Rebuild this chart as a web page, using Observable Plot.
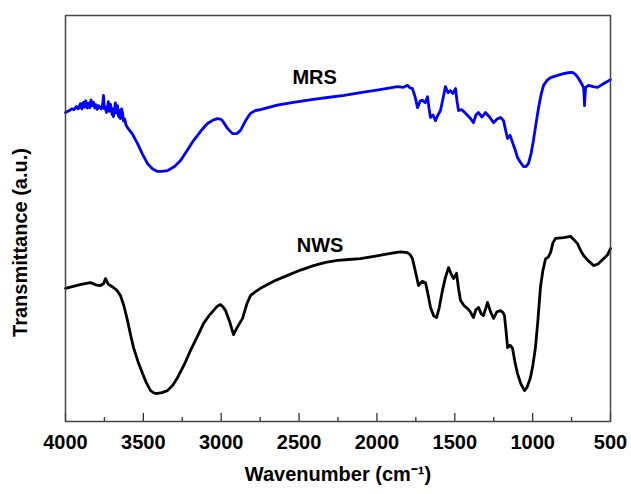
<!DOCTYPE html>
<html>
<head>
<meta charset="utf-8">
<script src="https://cdn.jsdelivr.net/npm/d3@7"></script>
<script src="https://cdn.jsdelivr.net/npm/@observablehq/plot@0.6"></script>
<style>
  html, body { margin: 0; padding: 0; background: #fff; }
  #chart { width: 631px; height: 494px; }
</style>
</head>
<body>
<div id="chart"></div>
<script>
// Series: [wavenumber (cm-1), transmittance (a.u.)]
const mrsPoints = [
  [4000,76.1],[3975,76.6],[3960,77.0],[3945,76.8],[3930,77.6],[3918,77.0],[3904,78.3],[3895,77.0],[3885,78.6],
  [3877,77.4],[3870,79.0],[3860,77.2],[3852,78.4],[3844,77.3],[3836,79.2],[3828,77.8],[3820,78.6],[3812,77.2],
  [3804,78.0],[3796,76.9],[3788,77.8],[3780,77.4],[3770,77.0],[3762,78.0],[3756,80.3],[3750,77.0],[3745,77.5],
  [3737,76.1],[3730,77.4],[3725,78.8],[3718,76.4],[3711,78.1],[3705,76.8],[3700,75.6],[3696,77.0],[3692,75.1],
  [3686,76.5],[3680,78.5],[3673,76.0],[3666,77.8],[3661,75.5],[3656,75.0],[3651,76.6],[3647,74.6],[3643,76.0],
  [3640,77.0],[3634,76.1],[3627,74.0],[3620,74.5],[3611,73.0],[3602,72.4],
  [3570,70.8],[3538,68.5],[3505,65.8],[3473,63.5],[3440,62.2],[3409,61.6],[3380,61.6],[3345,61.8],[3300,62.8],
  [3261,64.3],[3220,66.7],[3178,69.2],[3130,71.6],[3088,73.4],[3050,74.3],[3024,74.6],[3005,74.5],[2992,74.1],
  [2960,72.2],[2928,70.9],[2900,70.9],[2876,71.7],[2845,74.0],[2812,75.9],[2780,76.6],[2748,76.8],[2640,77.9],
  [2536,78.6],[2420,79.3],[2317,79.8],[2210,80.3],[2106,81.0],[1990,81.7],[1868,82.5],[1830,82.3],[1804,82.8],
  [1788,82.2],[1772,82.0],[1755,80.0],[1739,77.3],[1722,79.0],[1707,79.1],[1690,78.5],[1675,80.0],[1665,77.0],
  [1656,74.9],[1640,75.5],[1624,74.1],[1608,75.5],[1592,76.6],[1576,79.5],[1560,82.5],[1544,81.0],[1528,81.5],
  [1512,80.8],[1495,82.0],[1486,79.0],[1476,76.6],[1455,76.8],[1431,75.9],[1405,74.9],[1380,73.6],[1364,75.5],
  [1348,76.1],[1325,75.0],[1303,76.1],[1277,75.0],[1251,73.6],[1228,74.5],[1206,74.9],[1187,74.1],[1175,72.0],
  [1161,69.7],[1145,70.5],[1129,68.7],[1113,67.0],[1097,65.0],[1078,63.8],[1059,62.8],[1043,62.8],[1027,63.5],
  [1010,66.0],[995,69.2],[978,73.5],[962,77.3],[946,80.5],[930,82.8],[908,84.0],[885,84.7],[845,85.2],[802,85.7],
  [772,85.9],[744,86.0],[725,85.5],[705,84.5],[690,83.5],[673,82.3],[669,80.0],[667,77.8],[664,80.0],[660,82.3],
  [641,82.8],[612,82.5],[583,82.3],[540,83.3],[500,84.2]
];
const nwsPoints = [
  [4000,32.8],[3950,33.3],[3900,33.8],[3839,34.2],[3800,33.6],[3775,33.5],[3755,34.0],[3743,35.2],[3725,33.8],
  [3692,33.0],[3670,32.3],[3647,31.0],[3625,28.5],[3602,24.9],[3583,21.5],[3563,18.2],[3535,14.8],[3505,11.8],
  [3480,9.5],[3454,7.6],[3430,7.0],[3409,6.9],[3380,7.1],[3345,7.6],[3310,9.0],[3281,10.8],[3240,13.8],[3197,17.5],
  [3155,20.8],[3114,24.1],[3080,26.0],[3050,27.3],[3025,28.4],[3005,28.8],[2990,28.3],[2972,27.3],[2945,24.5],
  [2921,21.4],[2900,23.0],[2863,25.4],[2835,29.0],[2812,31.0],[2780,32.0],[2748,32.8],[2660,34.6],[2574,36.0],
  [2490,37.3],[2407,38.4],[2330,39.2],[2253,39.7],[2180,39.9],[2106,40.1],[2000,40.8],[1913,41.4],[1850,41.8],
  [1804,41.6],[1785,41.0],[1772,40.1],[1750,36.5],[1733,33.5],[1710,34.5],[1688,34.2],[1670,31.0],[1656,28.1],
  [1635,26.0],[1617,25.6],[1600,28.0],[1579,32.3],[1560,35.5],[1540,37.9],[1525,36.5],[1508,35.2],[1489,36.5],
  [1475,32.5],[1463,29.8],[1440,28.5],[1418,27.8],[1400,27.0],[1380,25.6],[1365,27.5],[1348,28.1],[1330,26.5],
  [1316,26.1],[1300,28.0],[1290,29.3],[1270,27.0],[1251,25.4],[1230,27.0],[1206,27.3],[1190,26.8],[1181,26.1],
  [1170,22.0],[1161,18.2],[1145,18.8],[1129,18.0],[1113,14.5],[1097,11.8],[1075,9.2],[1052,7.6],[1035,8.5],
  [1014,10.8],[998,14.0],[982,18.2],[966,25.0],[950,33.0],[935,37.0],[917,40.1],[900,40.5],[885,41.6],[870,44.0],
  [853,45.1],[800,45.3],[757,45.6],[735,44.8],[712,43.8],[690,42.0],[673,40.9],[640,39.5],[609,38.4],[580,38.8],
  [545,40.1],[520,41.0],[500,42.6]
];
const seriesNames = ["MRS", "NWS"];
const seriesColors = ["#0000ff", "#000000"];
const labelWavenumber = [2400, 2365];
const labelValue = [84.6, 43.3];
const majorTicks = [4000, 3500, 3000, 2500, 2000, 1500, 1000, 500];
const minorTicks = [3750, 3250, 2750, 2250, 1750, 1250, 750];
const xTitle = "Wavenumber (cm\u207B\u00B9)";
const yTitle = "Transmittance (a.u.)";

const rows = [
  ...mrsPoints.map(([w, t]) => ({series: "MRS", w, t})),
  ...nwsPoints.map(([w, t]) => ({series: "NWS", w, t}))
];
const labels = seriesNames.map((s, i) => ({series: s, w: labelWavenumber[i], t: labelValue[i]}));

const font = "'Liberation Sans', Arial, sans-serif";

const chart = Plot.plot({
  width: 631,
  height: 494,
  marginTop: 15,
  marginRight: 21,
  marginBottom: 73,
  marginLeft: 65,
  style: {fontFamily: font, fontSize: "20px", fontWeight: "bold", color: "#000", background: "#fff"},
  x: {domain: [4000, 500], label: null},
  y: {domain: [0, 100], axis: null},
  color: {domain: seriesNames, range: seriesColors},
  marks: [
    Plot.line(rows, {x: "w", y: "t", z: "series", stroke: "series", strokeWidth: 2.8, strokeLinejoin: "round"}),
    Plot.text(labels, {x: "w", y: "t", text: "series", fontSize: 20, fontWeight: "bold", fill: "#000"}),
    Plot.tickX(majorTicks, {x: d => d, insetTop: 398, stroke: "#333", strokeWidth: 1.3}),
    Plot.tickX(minorTicks, {x: d => d, insetTop: 402, stroke: "#333", strokeWidth: 1.3}),
    Plot.axisX({ticks: majorTicks, tickSize: 0, tickPadding: 13, tickFormat: d => String(d), fontSize: 20, fontWeight: "bold", label: null}),
    Plot.frame({stroke: "#444", strokeWidth: 1.5}),
    Plot.text([xTitle], {text: d => d, frameAnchor: "bottom", lineAnchor: "middle", textAnchor: "middle", dy: 53, fontSize: 20, fontWeight: "bold", fill: "#000"}),
    Plot.text([yTitle], {text: d => d, frameAnchor: "left", lineAnchor: "middle", textAnchor: "middle", rotate: -90, dx: -45, dy: 24, fontSize: 20, fontWeight: "bold", fill: "#000"})
  ]
});
document.getElementById("chart").appendChild(chart);
</script>
</body>
</html>
